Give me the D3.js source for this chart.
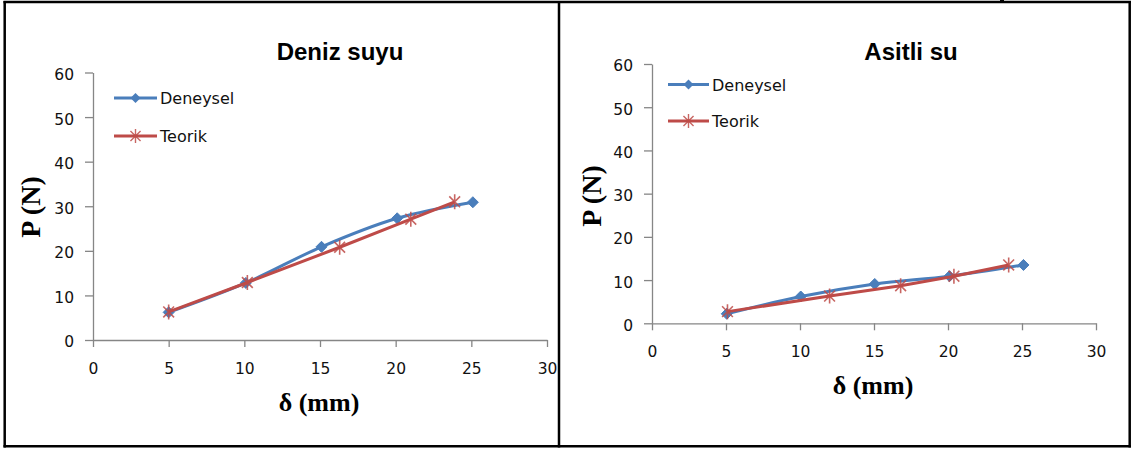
<!DOCTYPE html>
<html>
<head>
<meta charset="utf-8">
<script src="https://cdn.jsdelivr.net/npm/d3@7"></script>
<style>
  html, body { margin: 0; padding: 0; background: #fff; }
  svg { display: block; }
</style>
</head>
<body>
<svg id="chart" width="1134" height="450"></svg>
<script>
// ---- data ----
const xTicks = [0, 5, 10, 15, 20, 25, 30];
const yTicks = [0, 10, 20, 30, 40, 50, 60];
const seriesNames = ["Deneysel", "Teorik"];
const chartTitles = ["Deniz suyu", "Asitli su"];
const xLabel = "δ (mm)";
const yLabel = "P (N)";

// Deniz suyu
const denizDeneyselX = [5.0, 10.1, 15.1, 20.1, 25.1];
const denizDeneyselY = [6.2, 12.8, 20.9, 27.3, 30.9];
const denizTeorikX = [5.0, 10.2, 16.3, 21.0, 23.9];
const denizTeorikY = [6.3, 12.9, 20.8, 27.1, 31.0];

// Asitli su
const asitDeneyselX = [5.05, 10.05, 15.05, 20.1, 25.1];
const asitDeneyselY = [2.2, 6.2, 9.1, 10.9, 13.5];
const asitTeorikX = [5.1, 12.0, 16.8, 20.4, 24.1];
const asitTeorikY = [2.7, 6.3, 8.7, 10.9, 13.5];

const BLUE = "#4A7EBB", RED = "#BE4B48", AXIS = "#868686";
const svg = d3.select("#chart");

// frame
const frame = svg.append("g").attr("stroke", "#000").attr("fill", "none").attr("stroke-width", 2.5);
frame.append("line").attr("x1", 3.5).attr("x2", 1131).attr("y1", 2).attr("y2", 2);
frame.append("line").attr("x1", 4.7).attr("x2", 4.7).attr("y1", 1).attr("y2", 447.5);
frame.append("line").attr("x1", 1129.7).attr("x2", 1129.7).attr("y1", 1).attr("y2", 447.5);
frame.append("line").attr("x1", 3.5).attr("x2", 1131).attr("y1", 446.3).attr("y2", 446.3);
frame.append("line").attr("x1", 559).attr("x2", 559).attr("y1", 1).attr("y2", 447.5);
svg.append("rect").attr("x", 1000).attr("y", 0).attr("width", 4).attr("height", 3).attr("fill", "#000");

function starPath(r) {
  const d = r * 0.72;
  return `M0,${-r}L0,${r}M${-d},${-d}L${d},${d}M${-d},${d}L${d},${-d}`;
}
function diamondPath(r) {
  return `M0,${-r}L${r},0L0,${r}L${-r},0Z`;
}

function drawChart(cfg) {
  const x = d3.scaleLinear().domain([0, 30]).range([cfg.x0, cfg.x1]);
  const y = d3.scaleLinear().domain([0, 60]).range([cfg.y0, cfg.y1]);
  const g = svg.append("g");

  // axes
  const xAxis = d3.axisBottom(x).tickValues(xTicks).tickSize(7).tickSizeOuter(0).tickPadding(16);
  const yAxis = d3.axisLeft(y).tickValues(yTicks).tickSize(8).tickSizeOuter(0).tickPadding(11);
  const gx = g.append("g").attr("transform", `translate(0,${cfg.y0})`).call(xAxis);
  const gy = g.append("g").attr("transform", `translate(${cfg.x0},0)`).call(yAxis);
  [gx, gy].forEach(a => {
    a.selectAll("path, line").attr("stroke", AXIS).attr("stroke-width", 1.3);
    a.selectAll("text").attr("font-family", "DejaVu Sans").attr("font-size", 15.5).attr("fill", "#111");
  });
  gy.selectAll("text").attr("dy", "0.45em");

  // title
  g.append("text").attr("x", cfg.titleX).attr("y", cfg.titleY)
    .attr("text-anchor", "middle").attr("font-family", "Liberation Sans").attr("font-weight", "bold")
    .attr("font-size", 24).attr("fill", "#000").text(cfg.title);

  // axis labels
  g.append("text").attr("x", (cfg.x0 + cfg.x1) / 2 - 1).attr("y", cfg.xLabelY)
    .attr("text-anchor", "middle").attr("font-family", "Liberation Serif").attr("font-weight", "bold")
    .attr("font-size", 26).attr("fill", "#000").text(xLabel);
  g.append("text").attr("transform", `translate(${cfg.yLabelX},${cfg.yLabelY}) rotate(-90)`)
    .attr("text-anchor", "middle").attr("font-family", "Liberation Serif").attr("font-weight", "bold")
    .attr("font-size", 28).attr("fill", "#000").text(yLabel);

  // series
  const blue = cfg.blueX.map((v, i) => [v, cfg.blueY[i]]);
  const red = cfg.redX.map((v, i) => [v, cfg.redY[i]]);
  const smooth = d3.line().x(d => x(d[0])).y(d => y(d[1])).curve(d3.curveCatmullRom.alpha(0.5));
  const straight = d3.line().x(d => x(d[0])).y(d => y(d[1]));

  g.append("path").attr("d", smooth(blue)).attr("fill", "none").attr("stroke", BLUE)
    .attr("stroke-width", 3).attr("stroke-linejoin", "round");
  g.selectAll(null).data(blue).enter().append("path")
    .attr("transform", d => `translate(${x(d[0])},${y(d[1])})`)
    .attr("d", diamondPath(5.5)).attr("fill", BLUE).attr("stroke", BLUE).attr("stroke-width", 1);

  g.append("path").attr("d", straight(red)).attr("fill", "none").attr("stroke", RED)
    .attr("stroke-width", 3).attr("stroke-linejoin", "round");
  g.selectAll(null).data(red).enter().append("path")
    .attr("transform", d => `translate(${x(d[0])},${y(d[1])})`)
    .attr("d", starPath(7.5)).attr("fill", "none").attr("stroke", RED).attr("stroke-width", 1.6)
    .attr("stroke-opacity", 0.85);

  // legend
  const lg = g.append("g");
  const items = [
    { name: seriesNames[0], color: BLUE, y: cfg.legY[0], marker: "diamond" },
    { name: seriesNames[1], color: RED, y: cfg.legY[1], marker: "star" }
  ];
  items.forEach(it => {
    lg.append("line").attr("x1", cfg.legX0).attr("x2", cfg.legX1).attr("y1", it.y).attr("y2", it.y)
      .attr("stroke", it.color).attr("stroke-width", 3);
    const mx = (cfg.legX0 + cfg.legX1) / 2;
    if (it.marker === "diamond") {
      lg.append("path").attr("transform", `translate(${mx},${it.y})`).attr("d", diamondPath(5)).attr("fill", it.color);
    } else {
      lg.append("path").attr("transform", `translate(${mx},${it.y})`).attr("d", starPath(7))
        .attr("fill", "none").attr("stroke", it.color).attr("stroke-width", 1.4).attr("stroke-opacity", 0.85);
    }
    lg.append("text").attr("x", cfg.legX1 + 3).attr("y", it.y + 6.3)
      .attr("font-family", "DejaVu Sans").attr("font-size", 16).attr("fill", "#111").text(it.name);
  });
}

drawChart({
  x0: 93, x1: 547, y0: 340, y1: 72.5,
  title: chartTitles[0], titleX: 340, titleY: 59.5,
  xLabelY: 410.5, yLabelX: 40, yLabelY: 207,
  blueX: denizDeneyselX, blueY: denizDeneyselY, redX: denizTeorikX, redY: denizTeorikY,
  legX0: 114, legX1: 157, legY: [98, 136]
});
drawChart({
  x0: 652, x1: 1096, y0: 323.3, y1: 64,
  title: chartTitles[1], titleX: 911, titleY: 60,
  xLabelY: 393.5, yLabelX: 601, yLabelY: 196,
  blueX: asitDeneyselX, blueY: asitDeneyselY, redX: asitTeorikX, redY: asitTeorikY,
  legX0: 668, legX1: 709, legY: [84.5, 121]
});
</script>
</body>
</html>
